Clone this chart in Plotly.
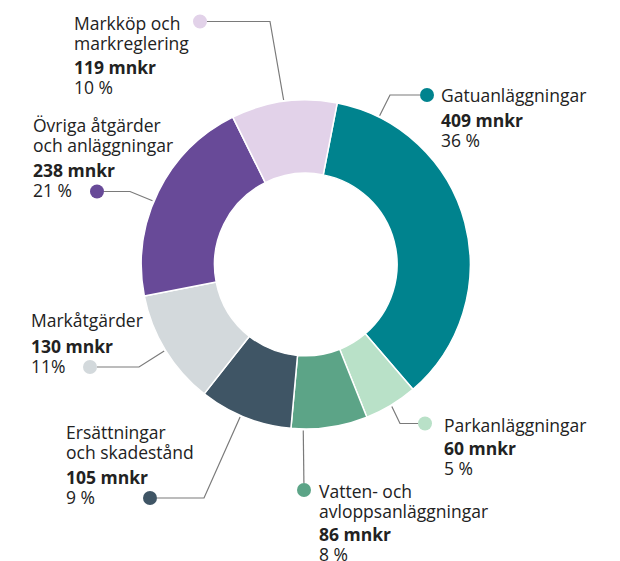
import math
import plotly.graph_objects as go

# ---------------- data ----------------
categories = ["Gatuanläggningar", "Parkanläggningar", "Vatten- och avloppsanläggningar",
              "Ersättningar och skadestånd", "Markåtgärder",
              "Övriga åtgärder och anläggningar", "Markköp och markreglering"]
values_mnkr = [409, 60, 86, 105, 130, 238, 119]
pct_labels = ["36 %", "5 %", "8 %", "9 %", "11%", "21 %", "10 %"]
name_lines = [["Gatuanläggningar"], ["Parkanläggningar"], ["Vatten- och", "avloppsanläggningar"],
              ["Ersättningar", "och skadestånd"], ["Markåtgärder"],
              ["Övriga åtgärder", "och anläggningar"], ["Markköp och", "markreglering"]]
colors = ["#00838E", "#B9E1C8", "#5CA487", "#3F5565", "#D3D9DC", "#684A98", "#E2D2E9"]

# ---------------- layout / style ----------------
W, H = 620, 561
CX, CY, R = 305.8, 264.5, 164.5
HOLE = 0.555
ROT = 11
FONT = "Open Sans"
FS = 17.5          # glyph size
FS_BASE = 15.4     # base size -> line pitch 1.3 * 15.4 = 20px
TXT = "#222222"
LINE_C = "#7a7a7a"
DOT_R = 7

# label placement (pixels): text left x, line y's; dot position; elbow
label_x = [440, 443, 318, 65, 30, 32, 73]
label_y = [[94.5, 119.7, 140.3], [424.5, 447.5, 467.8], [490.8, 510.3, 533, 554],
           [432.2, 451.2, 476, 497.8], [320, 345, 366.3], [126, 143, 169.7, 190.8],
           [22.7, 42.7, 67, 86.3]]
dots = [(427, 95), (425, 423.5), (304, 490), (150, 498), (90, 367), (97, 191.5), (200, 21.5)]
elbows = [(390, 95), (400, 423.5), None, (204, 498), (139, 367), (130, 191.5), (270, 21.5)]
anchor_frac = [0.12, 0.5, 0.84, 0.55, 0.5, 0.45, 0.5]


def px(x):
    return x / W


def py(y):
    return 1 - y / H


def sp(t):
    return f'<span style="font-size:{FS}px">{t}</span>'


fig = go.Figure(go.Pie(
    values=values_mnkr, labels=categories, sort=False, direction="clockwise",
    rotation=ROT, hole=HOLE, textinfo="none", hoverinfo="label+value",
    marker=dict(colors=colors, line=dict(color="white", width=1.5)),
    domain=dict(x=[px(CX - R), px(CX + R)], y=[py(CY + R), py(CY - R)]),
    showlegend=False,
))

shapes = []
annotations = []
total = sum(values_mnkr)
cum = 0
for i, v in enumerate(values_mnkr):
    a0 = ROT + cum / total * 360
    a1 = ROT + (cum + v) / total * 360
    cum += v
    ang = math.radians(a0 + anchor_frac[i] * (a1 - a0))
    rr = R + 1.5
    ax = CX + rr * math.sin(ang)
    ay = CY - rr * math.cos(ang)
    dx, dy = dots[i]
    pts = [(ax, ay)]
    if elbows[i] is not None:
        pts.append(elbows[i])
    ex, ey = pts[-1]
    L = math.hypot(dx - ex, dy - ey)
    pts.append((dx + (ex - dx) / L * DOT_R, dy + (ey - dy) / L * DOT_R))
    path = "M " + " L ".join(f"{px(x):.5f},{py(y):.5f}" for x, y in pts)
    shapes.append(dict(type="path", xref="paper", yref="paper", path=path,
                       line=dict(color=LINE_C, width=1.2)))
    shapes.append(dict(type="circle", xref="paper", yref="paper",
                       x0=px(dx - DOT_R), x1=px(dx + DOT_R), y0=py(dy + DOT_R), y1=py(dy - DOT_R),
                       fillcolor=colors[i], line=dict(width=0)))
    n = len(name_lines[i])
    ys = label_y[i]
    name_txt = "<br>".join(sp(t) for t in name_lines[i])
    val_txt = sp(f"<b>{v} mnkr</b>") + "<br>" + sp(pct_labels[i])
    for txt, yc in ((name_txt, sum(ys[:n]) / n), (val_txt, (ys[n] + ys[n + 1]) / 2)):
        annotations.append(dict(text=txt, x=px(label_x[i]), y=py(yc), xref="paper", yref="paper",
                                xanchor="left", yanchor="middle", align="left", showarrow=False,
                                font=dict(family=FONT, size=FS_BASE, color=TXT), borderpad=0))

fig.update_layout(width=W, height=H, margin=dict(l=0, r=0, t=0, b=0),
                  paper_bgcolor="white", plot_bgcolor="white",
                  shapes=shapes, annotations=annotations)
fig.write_html("out.html", config={"displayModeBar": False},
               post_script="document.body.style.margin='0';")
